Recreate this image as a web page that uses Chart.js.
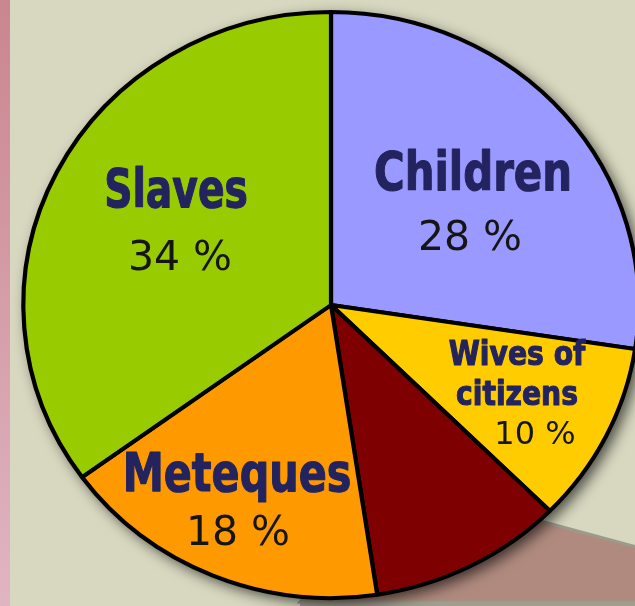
<!DOCTYPE html>
<html>
<head>
<meta charset="utf-8">
<script src="https://cdn.jsdelivr.net/npm/chart.js@4/dist/chart.umd.min.js"></script>
<style>
  html, body { margin: 0; padding: 0; background: #d8d8c0; }
  #wrap { width: 635px; height: 606px; position: relative; }
</style>
</head>
<body>
<div id="wrap"><canvas id="c"></canvas></div>
<script>
// ---- data ----
const categories = ['Children', 'Wives of citizens', 'Other', 'Meteques', 'Slaves'];
const sliceValues = [27.4, 10.0, 10.2, 17.4, 35.0];
// percentages as printed on the picture
const pctLabels = ['28 %', '10 %', '', '18 %', '34 %'];
const nameLines = [['Children'], ['Wives of', 'citizens'], [], ['Meteques'], ['Slaves']];

// ---- styles ----
const sliceColors = ['#9999ff', '#ffcc00', '#7f0000', '#ff9900', '#99cc00'];
const labelColor = '#23235f';
const pctColor = '#151515';
const XSCALE = 1.05; // slight horizontal stretch of the pie

// label layout (offsets from pie center), kept separate from data
const labelLayout = [
  { names: [[142, -115]], nameSize: 53, nameSx: 0.79, pct: [139, -55], pctSize: 41 },
  { names: [[186, 60], [186, 100]], nameSize: 34, nameSx: 0.83, pct: [204, 139], pctSize: 32 },
  null,
  { names: [[-94, 186]], nameSize: 53, nameSx: 0.78, pct: [-93, 240], pctSize: 41 },
  { names: [[-155, -98]], nameSize: 53, nameSx: 0.74, pct: [-151, -35], pctSize: 41 }
];

const backdrop = {
  id: 'backdrop',
  beforeDraw(chart) {
    const ctx = chart.ctx;
    const W = chart.width, H = chart.height;
    ctx.save();
    ctx.fillStyle = '#d8d8c0';
    ctx.fillRect(0, 0, W, H);
    const g = ctx.createLinearGradient(0, 0, 0, H);
    g.addColorStop(0, '#c9868f');
    g.addColorStop(1, '#e0b5c2');
    ctx.fillStyle = g;
    ctx.fillRect(0, 0, 10, H);
    // brown panel behind the pie (bottom right)
    ctx.beginPath();
    ctx.moveTo(400, 483);
    ctx.lineTo(W + 5, 548);
    ctx.lineTo(W + 5, 602);
    ctx.lineTo(300, 602);
    ctx.closePath();
    ctx.fillStyle = '#b08a7e';
    ctx.fill();
    ctx.lineWidth = 3;
    ctx.strokeStyle = '#9c9a8a';
    ctx.stroke();
    ctx.fillStyle = '#a09e8e';
    ctx.fillRect(300, 602, W - 300, 4);
    ctx.restore();
  },
  beforeDatasetsDraw(chart) {
    const ctx = chart.ctx;
    const arc = chart.getDatasetMeta(0).data[0];
    const cx = arc.x, cy = arc.y, r = arc.outerRadius;
    ctx.save();
    ctx.translate(cx, cy);
    ctx.scale(XSCALE, 1);
    ctx.translate(-cx, -cy);
    // shadow under pie
    ctx.save();
    ctx.shadowColor = 'rgba(0,0,0,0.65)';
    ctx.shadowBlur = 14;
    ctx.shadowOffsetX = 5;
    ctx.shadowOffsetY = 5;
    ctx.beginPath();
    ctx.arc(cx, cy, r + 1, 0, Math.PI * 2);
    ctx.fillStyle = '#000';
    ctx.fill();
    ctx.restore();
  },
  afterDatasetsDraw(chart) {
    chart.ctx.restore();
  },
  afterDraw(chart) {
    const ctx = chart.ctx;
    const arc0 = chart.getDatasetMeta(0).data[0];
    const cx = arc0.x, cy = arc0.y;
    ctx.save();
    ctx.textAlign = 'center';
    ctx.textBaseline = 'alphabetic';
    sliceValues.forEach((v, i) => {
      const L = labelLayout[i];
      if (!L) return;
      nameLines[i].forEach((line, j) => {
        const p = L.names[j];
        ctx.save();
        ctx.translate(cx + p[0], cy + p[1]);
        ctx.scale(L.nameSx, 1);
        ctx.font = 'bold ' + L.nameSize + 'px "DejaVu Sans", Verdana, sans-serif';
        ctx.fillStyle = labelColor;
        ctx.strokeStyle = labelColor;
        ctx.lineWidth = 1.2;
        ctx.lineJoin = 'round';
        ctx.fillText(line, 0, 0);
        ctx.strokeText(line, 0, 0);
        ctx.restore();
      });
      ctx.font = L.pctSize + 'px "DejaVu Sans", Verdana, sans-serif';
      ctx.fillStyle = pctColor;
      ctx.fillText(pctLabels[i], cx + L.pct[0], cy + L.pct[1]);
    });
    ctx.restore();
  }
};

new Chart(document.getElementById('c'), {
  type: 'pie',
  data: {
    labels: categories,
    datasets: [{
      data: sliceValues,
      backgroundColor: sliceColors,
      borderColor: '#000',
      borderWidth: 4
    }]
  },
  options: {
    responsive: true,
    maintainAspectRatio: false,
    animation: false,
    layout: { padding: { left: 27, right: 0, top: 10, bottom: 6 } },
    plugins: { legend: { display: false }, tooltip: { enabled: false } }
  },
  plugins: [backdrop]
});
</script>
</body>
</html>
